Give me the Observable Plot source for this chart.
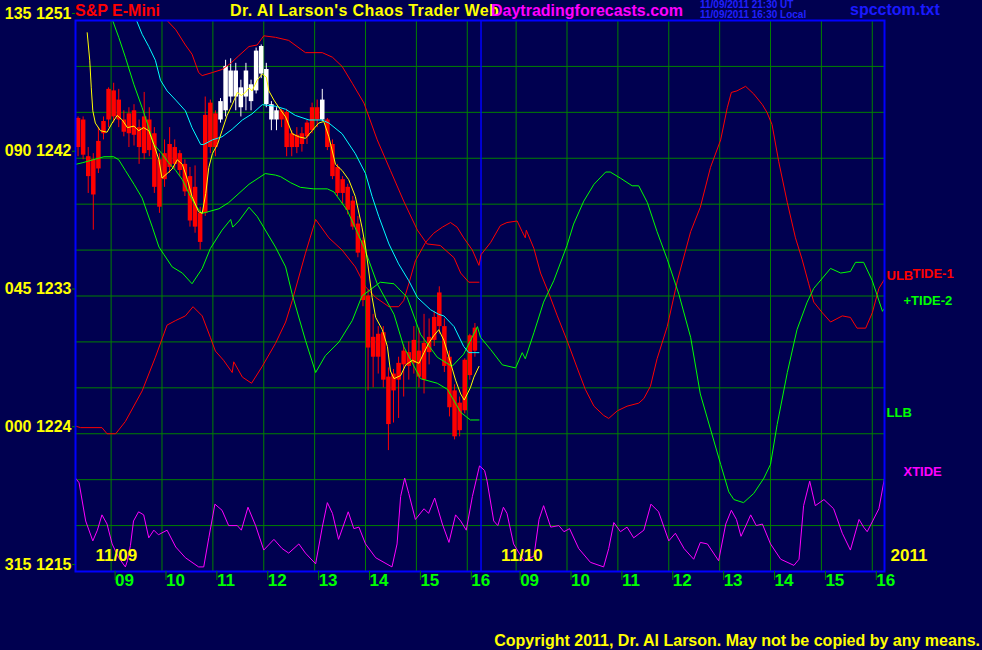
<!DOCTYPE html>
<html><head><meta charset="utf-8">
<script src="https://cdn.jsdelivr.net/npm/d3@7"></script>
<script src="https://cdn.jsdelivr.net/npm/@observablehq/plot@0.6"></script>
<style>
html,body{margin:0;padding:0;background:#000050;}
#wrap{position:relative;width:982px;height:650px;overflow:hidden;background:#000050;font-family:"Liberation Sans",Arial,sans-serif;font-weight:bold;}
#wrap svg{position:absolute;left:0;top:0;}
.t{position:absolute;white-space:nowrap;line-height:1;font-size:16px;font-weight:bold;}
</style></head>
<body><div id="wrap"></div>
<script>
// ---- axis values ----
const priceTicks = [1215, 1224, 1233, 1242, 1251];
const angleLabels = ["315", "000", "045", "090", "135"];
const gridPrices = [1215,1218,1221,1224,1227,1230,1233,1236,1239,1242,1245,1248,1251];
const hours = [9,10,11,12,13,14,15,16];
const hourLabels = ["09","10","11","12","13","14","15","16"];
const dayOffsets = [0, 7.96];
const dayLabels = ["11/09", "11/10"];
const dayStarts = [8.3, 16.27];
const yearLabel = "2011";
const xDomain = [8.3, 24.2];
const dayBreak = 16.27;

// ---- candles (6-minute bars from 8:18) ----
const barT0 = 8.35, barStep = 0.1;
const barOpen  = [1244.6,1244.5,1242.1,1241.9,1241.3,1243.6,1244.5,1246.4,1245.8,1244.5,1243.6,1245.1,1244.0,1242.3,1244.5,1243.6,1241.9,1240.6,1242.9,1241.6,1242.3,1241.6,1240.8,1240.1,1238.4,1238.4,1245.6,1242.7,1244.5,1245.1,1247.7,1246.0,1246.6,1246.0,1246.8,1246.4,1249.3,1247.8,1245.5,1244.5,1245.1,1245.0,1243.6,1242.7,1243.6,1243.4,1243.8,1245.3,1244.5,1244.5,1242.9,1241.4,1240.6,1240.1,1239.2,1237.7,1236.6,1233.0,1230.3,1229.0,1230.6,1227.7,1226.8,1227.5,1228.5,1229.3,1228.6,1229.4,1227.5,1229.3,1230.1,1231.0,1231.0,1229.0,1226.8,1224.2,1225.5,1227.8,1229.4,1230.7];
const barHigh  = [1244.7,1244.7,1242.7,1242.3,1244.0,1244.7,1246.6,1246.9,1246.5,1245.1,1245.3,1245.5,1244.5,1246.3,1245.3,1244.0,1242.3,1243.2,1244.0,1243.2,1242.5,1241.9,1241.4,1241.5,1238.8,1246.0,1245.8,1245.1,1245.9,1248.4,1248.5,1248.2,1247.1,1248.2,1247.1,1249.2,1249.4,1248.2,1245.7,1245.3,1245.2,1245.2,1243.8,1244.0,1244.0,1244.5,1245.6,1245.8,1246.5,1244.6,1243.2,1241.6,1240.8,1240.3,1239.5,1238.2,1236.8,1233.4,1231.8,1231.0,1231.0,1228.3,1228.2,1229.0,1229.8,1230.0,1231.0,1230.9,1231.8,1231.5,1232.0,1233.6,1231.5,1229.4,1227.2,1226.4,1228.9,1230.5,1231.2,1231.3];
const barLow   = [1242.1,1241.9,1239.7,1237.3,1241.0,1243.2,1244.0,1244.3,1244.0,1243.4,1242.7,1242.8,1241.6,1241.9,1242.1,1239.7,1238.4,1240.1,1241.0,1241.3,1240.8,1239.5,1237.5,1237.1,1236.0,1238.2,1242.3,1242.1,1244.3,1244.7,1245.6,1245.1,1244.7,1245.1,1245.1,1246.2,1247.2,1245.3,1243.8,1243.8,1244.0,1242.1,1242.1,1242.3,1242.4,1242.9,1243.6,1244.0,1244.4,1242.5,1240.6,1239.5,1239.0,1238.3,1237.3,1235.5,1232.3,1226.8,1227.0,1227.9,1227.0,1222.9,1224.7,1225.0,1226.4,1227.5,1227.9,1227.0,1226.6,1228.5,1229.7,1230.5,1228.0,1225.1,1223.6,1223.8,1225.3,1227.5,1229.0,1229.2];
const barClose = [1242.7,1242.2,1240.8,1239.6,1243.1,1244.4,1246.5,1244.7,1244.5,1243.7,1244.9,1243.5,1242.7,1244.7,1242.5,1240.1,1238.8,1242.3,1241.4,1242.7,1241.2,1239.8,1237.9,1237.5,1236.5,1244.8,1242.7,1244.9,1245.7,1248.0,1246.0,1247.7,1245.3,1247.7,1245.7,1249.0,1247.5,1245.5,1244.5,1245.1,1244.5,1242.7,1242.7,1243.5,1242.9,1244.3,1245.3,1244.5,1245.8,1242.7,1240.8,1239.7,1239.7,1238.6,1237.5,1235.8,1232.7,1229.6,1229.0,1230.5,1227.5,1224.6,1227.9,1228.6,1229.4,1228.4,1230.1,1227.7,1229.9,1230.3,1231.6,1233.2,1228.4,1225.7,1223.8,1226.0,1228.8,1230.4,1230.9,1229.8];
const barTone  = "rrrrrrrrrrrrrrrrrrrrrrrrrrrrwwwwwwwwwwwwrrrrrrrrwrrrrrrrrrrrrrrrrrrrrrrrrrrrrrr".split("");

// ---- moving averages and bands (day 1) ----
const yellowMA = [[8.53,1250.2],[8.58,1248.4],[8.61,1246.6],[8.64,1245.1],[8.69,1244.3],[8.79,1243.8],[8.92,1243.7],[9.02,1244.3],[9.12,1244.8],[9.22,1244.5],[9.32,1244.0],[9.45,1244.1],[9.54,1243.8],[9.64,1244.0],[9.74,1243.8],[9.84,1242.9],[9.94,1241.9],[10.00,1240.7],[10.10,1241.0],[10.20,1241.3],[10.30,1241.9],[10.40,1241.6],[10.50,1240.6],[10.59,1239.5],[10.72,1238.5],[10.79,1238.4],[10.86,1239.7],[10.92,1241.4],[10.99,1242.3],[11.09,1242.9],[11.18,1243.8],[11.28,1244.8],[11.38,1245.5],[11.48,1246.3],[11.56,1246.1],[11.64,1246.3],[11.71,1246.6],[11.77,1246.4],[11.87,1247.1],[11.97,1247.5],[12.05,1247.3],[12.10,1246.4],[12.20,1245.8],[12.30,1245.3],[12.43,1244.7],[12.56,1243.6],[12.69,1243.4],[12.82,1243.3],[12.95,1243.8],[13.08,1244.3],[13.18,1244.4],[13.28,1243.4],[13.41,1241.6],[13.54,1241.2],[13.67,1240.6],[13.80,1239.5],[13.93,1237.5],[14.00,1236.2],[14.06,1234.7],[14.13,1232.9],[14.20,1231.6],[14.33,1230.8],[14.43,1229.7],[14.49,1228.1],[14.56,1227.6],[14.69,1227.8],[14.79,1228.5],[14.92,1228.8],[15.05,1228.6],[15.15,1229.3],[15.24,1229.9],[15.34,1230.4],[15.44,1230.8],[15.54,1230.1],[15.64,1229.0],[15.77,1227.5],[15.87,1226.6],[15.94,1226.2],[16.00,1226.6],[16.06,1227.0],[16.13,1227.7],[16.23,1228.4]];
const cyanMA = [[9.33,1252.3],[9.50,1251.0],[9.61,1250.1],[9.74,1249.3],[9.87,1248.4],[9.97,1247.1],[10.10,1246.4],[10.27,1245.8],[10.46,1245.1],[10.59,1244.0],[10.76,1242.9],[10.82,1242.9],[10.99,1243.2],[11.18,1243.4],[11.38,1243.9],[11.58,1244.5],[11.77,1244.9],[11.97,1245.5],[12.23,1245.4],[12.43,1245.2],[12.62,1244.8],[12.89,1244.5],[13.15,1244.5],[13.28,1244.3],[13.54,1243.6],[13.80,1242.3],[14.00,1241.0],[14.13,1239.5],[14.26,1238.2],[14.46,1236.4],[14.65,1235.1],[14.85,1234.0],[15.02,1232.9],[15.28,1232.1],[15.44,1231.8],[15.54,1231.7],[15.74,1231.0],[15.93,1229.7],[16.03,1229.3],[16.23,1229.3]];
const ulb = [[9.77,1252.3],[10.10,1251.0],[10.27,1250.4],[10.46,1249.4],[10.59,1248.8],[10.72,1247.6],[10.79,1247.4],[10.99,1247.6],[11.18,1247.8],[11.35,1248.2],[11.51,1248.7],[11.71,1249.3],[11.87,1249.4],[12.00,1250.0],[12.23,1249.9],[12.49,1249.7],[12.82,1248.9],[13.15,1248.9],[13.35,1248.6],[13.54,1248.0],[13.74,1246.9],[13.97,1245.6],[14.23,1243.2],[14.49,1241.2],[14.75,1239.2],[15.02,1237.3],[15.21,1236.4],[15.47,1236.3],[15.74,1235.5],[15.87,1234.5],[16.03,1233.9],[16.23,1233.9]];
const llb = [[8.89,1252.3],[9.03,1251.0],[9.15,1249.9],[9.28,1248.6],[9.45,1246.8],[9.61,1245.3],[9.71,1244.3],[9.84,1242.9],[10.00,1242.3],[10.13,1241.7],[10.27,1241.2],[10.40,1240.6],[10.53,1239.7],[10.66,1238.9],[10.79,1238.4],[11.12,1238.7],[11.31,1239.1],[11.71,1240.3],[12.03,1241.0],[12.23,1240.9],[12.33,1240.8],[12.53,1240.4],[12.72,1240.1],[12.98,1240.0],[13.25,1240.0],[13.38,1239.8],[13.64,1238.6],[13.97,1236.2],[14.23,1233.8],[14.56,1231.8],[14.75,1229.7],[15.08,1227.6],[15.41,1227.3],[15.61,1226.9],[15.87,1225.4],[16.06,1224.9],[16.23,1224.9]];

// ---- tide forecasts (both days) ----
const tide1 = [[8.30,1224.5],[8.40,1224.4],[8.82,1224.4],[8.92,1224.0],[9.09,1224.0],[9.28,1224.8],[9.61,1226.8],[9.87,1229.0],[10.10,1231.1],[10.27,1231.4],[10.46,1231.7],[10.61,1232.3],[10.79,1231.7],[10.95,1230.3],[11.05,1229.4],[11.21,1228.8],[11.38,1228.0],[11.41,1228.7],[11.58,1227.7],[11.76,1227.3],[11.97,1228.4],[12.23,1229.9],[12.43,1231.3],[12.56,1232.7],[12.82,1235.8],[13.02,1238.0],[13.28,1236.8],[13.54,1236.0],[13.80,1234.9],[14.00,1233.6],[14.20,1232.9],[14.46,1232.3],[14.65,1232.3],[14.75,1232.7],[14.85,1233.8],[14.98,1235.3],[15.18,1236.5],[15.34,1237.1],[15.51,1237.5],[15.67,1237.8],[15.80,1237.5],[15.93,1236.8],[16.10,1236.0],[16.23,1235.0],[16.27,1235.7],[16.46,1236.5],[16.65,1237.6],[16.78,1237.8],[16.98,1237.9],[17.08,1237.2],[17.14,1236.8],[17.16,1237.3],[17.31,1236.1],[17.44,1234.5],[17.60,1233.2],[17.77,1231.7],[17.96,1230.1],[18.16,1228.3],[18.32,1226.9],[18.49,1225.8],[18.68,1225.2],[18.78,1225.0],[18.95,1225.5],[19.14,1225.8],[19.37,1226.0],[19.47,1226.3],[19.60,1227.1],[19.73,1228.9],[19.93,1231.0],[20.13,1234.0],[20.39,1237.2],[20.58,1238.8],[20.78,1241.4],[20.98,1243.2],[21.11,1245.3],[21.19,1246.3],[21.30,1246.4],[21.47,1246.7],[21.63,1246.2],[21.80,1245.5],[21.89,1245.0],[21.99,1244.2],[22.12,1241.8],[22.29,1239.1],[22.45,1236.8],[22.58,1235.4],[22.71,1233.8],[22.81,1232.6],[22.98,1231.9],[23.14,1231.3],[23.37,1231.7],[23.53,1231.6],[23.66,1230.9],[23.83,1230.9],[23.96,1231.9],[24.09,1233.5],[24.20,1234.1]];
const tide2 = [[8.30,1241.6],[8.43,1241.7],[8.86,1242.1],[9.05,1242.1],[9.15,1241.9],[9.28,1241.2],[9.45,1240.3],[9.61,1239.4],[9.81,1237.5],[9.94,1236.2],[10.04,1235.7],[10.20,1234.9],[10.40,1234.5],[10.59,1233.8],[10.79,1234.8],[10.95,1236.1],[11.18,1237.3],[11.35,1238.0],[11.39,1237.5],[11.51,1237.9],[11.71,1238.8],[11.87,1238.2],[12.23,1236.2],[12.43,1234.9],[12.56,1233.1],[12.82,1230.1],[13.02,1228.0],[13.21,1229.1],[13.48,1230.0],[13.74,1231.4],[13.93,1233.0],[14.29,1233.9],[14.56,1233.8],[14.82,1232.9],[15.08,1230.5],[15.41,1229.0],[15.70,1228.4],[15.93,1229.2],[16.20,1231.0],[16.26,1230.3],[16.46,1229.5],[16.69,1228.5],[16.95,1228.3],[17.08,1229.3],[17.14,1228.9],[17.31,1230.6],[17.50,1232.6],[17.70,1234.0],[17.96,1236.3],[18.09,1237.7],[18.29,1239.2],[18.49,1240.3],[18.72,1241.1],[18.81,1241.1],[19.01,1240.7],[19.24,1240.2],[19.37,1240.2],[19.54,1239.1],[19.73,1237.2],[19.93,1235.4],[20.16,1233.1],[20.39,1230.3],[20.58,1226.6],[20.78,1224.3],[20.98,1222.0],[21.14,1220.2],[21.24,1219.7],[21.43,1219.5],[21.63,1220.1],[21.83,1221.1],[21.96,1222.0],[22.09,1224.6],[22.29,1228.0],[22.48,1230.8],[22.68,1232.6],[22.81,1233.5],[23.14,1234.8],[23.34,1234.5],[23.53,1234.6],[23.63,1235.2],[23.79,1235.2],[23.96,1234.0],[24.16,1232.0],[24.20,1232.2]];
const xtide = [[8.30,1221.1],[8.37,1220.8],[8.50,1218.3],[8.64,1217.0],[8.73,1217.7],[8.82,1218.7],[8.92,1218.1],[9.02,1216.8],[9.15,1215.9],[9.28,1215.3],[9.32,1215.7],[9.38,1216.7],[9.44,1218.3],[9.54,1218.9],[9.64,1218.7],[9.74,1217.2],[9.84,1217.7],[9.93,1217.4],[10.10,1217.7],[10.27,1216.6],[10.46,1215.9],[10.72,1215.3],[10.82,1215.3],[10.92,1217.2],[11.04,1219.4],[11.18,1219.0],[11.31,1218.0],[11.48,1218.0],[11.56,1217.7],[11.69,1219.2],[11.84,1218.0],[12.00,1216.4],[12.20,1217.1],[12.36,1216.5],[12.49,1216.2],[12.69,1216.8],[12.82,1216.2],[13.02,1215.5],[13.15,1217.9],[13.25,1219.5],[13.35,1218.8],[13.47,1217.1],[13.66,1218.9],[13.77,1217.8],[13.87,1217.9],[14.00,1216.8],[14.20,1215.9],[14.52,1215.3],[14.62,1216.8],[14.69,1219.9],[14.77,1221.1],[14.85,1220.1],[14.98,1218.4],[15.15,1219.1],[15.24,1218.8],[15.36,1219.8],[15.51,1218.1],[15.64,1216.9],[15.77,1218.7],[15.87,1218.3],[15.98,1217.7],[16.10,1219.9],[16.24,1221.9],[16.34,1221.6],[16.39,1220.9],[16.52,1218.3],[16.60,1218.0],[16.71,1219.2],[16.78,1218.8],[16.91,1216.8],[17.11,1215.7],[17.31,1216.0],[17.41,1218.4],[17.50,1219.3],[17.64,1217.9],[17.80,1218.0],[17.90,1217.6],[18.01,1217.8],[18.19,1216.5],[18.42,1215.6],[18.68,1215.3],[18.78,1216.5],[18.88,1218.2],[19.01,1217.6],[19.14,1217.9],[19.27,1217.2],[19.47,1217.7],[19.61,1219.4],[19.76,1218.9],[19.96,1217.0],[20.09,1217.5],[20.26,1216.5],[20.45,1215.8],[20.58,1216.9],[20.72,1216.8],[20.94,1215.7],[21.08,1218.1],[21.19,1219.0],[21.29,1218.4],[21.38,1217.3],[21.49,1218.1],[21.57,1218.7],[21.68,1218.0],[21.80,1218.1],[21.96,1216.8],[22.16,1215.8],[22.42,1215.4],[22.52,1215.8],[22.61,1219.3],[22.73,1220.9],[22.84,1219.3],[23.01,1219.7],[23.20,1219.1],[23.37,1217.5],[23.53,1216.4],[23.70,1218.4],[23.79,1217.9],[23.86,1217.6],[24.09,1219.1],[24.20,1221.1]];

// ---- texts ----
const seriesLabels = [
  {name: "ULB", series: ulb, color: "#ff0000", dx: 2, dy: -6},
  {name: "TIDE-1", series: tide1, color: "#ff0000", dx: 28, dy: -5},
  {name: "+TIDE-2", series: tide2, color: "#00ff00", dx: 19, dy: -7},
  {name: "LLB", series: llb, color: "#00ff00", dx: 2, dy: -7},
  {name: "XTIDE", series: xtide, color: "#ff00ff", dx: 19, dy: -6}
];
const headerTexts = [
  {text: "S&P E-Mini", color: "#ff0000", css: "left:75px;top:3px;"},
  {text: "Dr. Al Larson's Chaos Trader Web", color: "#ffff00", css: "left:230px;top:3px;letter-spacing:0.4px;"},
  {text: "Daytradingforecasts.com", color: "#ff00ff", css: "left:491px;top:3px;"},
  {text: "11/09/2011 21:30 UT", color: "#2020ff", css: "left:700px;top:0px;font-size:10px;"},
  {text: "11/09/2011 16:30 Local", color: "#2020ff", css: "left:700px;top:10px;font-size:10px;"},
  {text: "spcctom.txt", color: "#1a1aff", css: "left:850px;top:2px;"},
  {text: "Copyright 2011, Dr. Al Larson. May not be copied by any means.", color: "#ffff00", css: "right:2px;top:633px;"}
];

const hourTicks = dayOffsets.flatMap(o => hours.map(h => h + o));
const hourFmt = d => hourLabels[hours.indexOf(Math.round(d < dayBreak ? d : d - dayOffsets[1]))];
const bars = barOpen.map((o, i) => ({t: barT0 + barStep * i, o, h: barHigh[i], l: barLow[i], c: barClose[i], tone: barTone[i]}));
const lastY = s => s[s.length - 1][1];

const chart = Plot.plot({
  width: 982, height: 650,
  marginLeft: 75, marginRight: 98, marginTop: 20, marginBottom: 79,
  style: {background: "transparent", color: "#ffff00", fontFamily: "'Liberation Sans', Arial, sans-serif", fontWeight: "bold", fontSize: "16px", overflow: "visible"},
  x: {domain: xDomain},
  y: {domain: [priceTicks[0], priceTicks[priceTicks.length - 1]]},
  marks: [
    Plot.gridY(gridPrices, {stroke: "#008000", strokeOpacity: 1}),
    Plot.gridX(hourTicks, {stroke: "#008000", strokeOpacity: 1}),
    Plot.ruleX([dayBreak], {stroke: "#0000ff", strokeWidth: 1.5}),
    Plot.ruleX(bars, {filter: d => d.tone === "r", x: "t", y1: "l", y2: "h", stroke: "#ff0000", strokeWidth: 1}),
    Plot.ruleX(bars, {filter: d => d.tone === "r", x: "t", y1: "o", y2: "c", stroke: "#ff0000", strokeWidth: 4.5}),
    Plot.ruleX(bars, {filter: d => d.tone === "w", x: "t", y1: "l", y2: "h", stroke: "#ffffff", strokeWidth: 1}),
    Plot.ruleX(bars, {filter: d => d.tone === "w", x: "t", y1: "o", y2: "c", stroke: "#ffffff", strokeWidth: 4.5}),
    Plot.line(tide1, {stroke: "#ff0000", strokeWidth: 1, clip: true}),
    Plot.line(tide2, {stroke: "#00ff00", strokeWidth: 1, clip: true}),
    Plot.line(xtide, {stroke: "#ff00ff", strokeWidth: 1, clip: true}),
    Plot.line(ulb, {stroke: "#ff0000", strokeWidth: 1, clip: true}),
    Plot.line(llb, {stroke: "#00ff00", strokeWidth: 1, clip: true}),
    Plot.line(cyanMA, {stroke: "#00ffff", strokeWidth: 1, clip: true}),
    Plot.line(yellowMA, {stroke: "#ffff00", strokeWidth: 1, clip: true}),
    Plot.frame({stroke: "#0000ff", strokeWidth: 2}),
    Plot.axisY(priceTicks, {tickSize: 3, tickPadding: 1, dy: -7, stroke: "#008000", fill: "#ffff00", fontSize: 16, label: null,
      tickFormat: d => angleLabels[priceTicks.indexOf(d)] + " " + d}),
    Plot.axisX(hourTicks, {tickSize: 9, tickPadding: -7, textAnchor: "start", dx: 4, stroke: "#008000", fill: "#00ff00", fontSize: 17, label: null,
      tickFormat: hourFmt}),
    Plot.text(dayLabels, {x: (d, i) => dayStarts[i], text: d => d, frameAnchor: "bottom", dx: 20, dy: -11, textAnchor: "start", fill: "#ffff00", fontSize: 17}),
    Plot.text([yearLabel], {x: () => xDomain[1], text: d => d, frameAnchor: "bottom", dx: 6, dy: -11, textAnchor: "start", fill: "#ffff00", fontSize: 17}),
    ...seriesLabels.map(l => Plot.text([l], {x: () => xDomain[1], y: d => lastY(d.series), text: "name", fill: l.color, dx: l.dx, dy: l.dy, textAnchor: "start", fontSize: 13}))
  ]
});
const wrap = document.getElementById("wrap");
wrap.appendChild(chart);
for (const h of headerTexts) {
  const div = document.createElement("div");
  div.className = "t";
  div.textContent = h.text;
  div.style.cssText += h.css + "color:" + h.color + ";";
  wrap.appendChild(div);
}
</script></body></html>
